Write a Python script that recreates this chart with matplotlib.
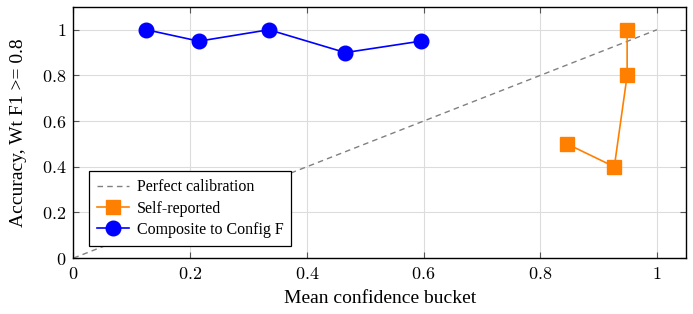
import matplotlib
matplotlib.use("Agg")
import matplotlib.pyplot as plt
from matplotlib.ticker import FuncFormatter

plt.rcParams['font.family'] = ['Liberation Serif', 'DejaVu Serif']
plt.rcParams['mathtext.fontset'] = 'cm'

# calibration data
diag_x = [0, 1]
diag_y = [0, 1]

self_conf = [0.846, 0.927, 0.949, 0.949]
self_acc = [0.5, 0.4, 0.8, 1.0]

comp_conf = [0.125, 0.215, 0.335, 0.466, 0.595]
comp_acc = [1.0, 0.95, 1.0, 0.9, 0.95]

ticks = [0, 0.2, 0.4, 0.6, 0.8, 1]

fig = plt.figure(figsize=(6.93, 3.14), dpi=100)
ax = fig.add_axes([0.106, 0.178, 0.884, 0.800])

ax.plot(diag_x, diag_y, color='#808080', linestyle=(0, (4, 3)), linewidth=1.0,
        label='Perfect calibration')
ax.plot(self_conf, self_acc, color='#FF8000', marker='s', markersize=9.5,
        linewidth=1.2, label='Self-reported')
ax.plot(comp_conf, comp_acc, color='#0000FF', marker='o', markersize=10.5,
        linewidth=1.2, label='Composite to Config F')

ax.set_xlim(0, 1.05)
ax.set_ylim(0, 1.1)
ax.set_xticks(ticks)
ax.set_yticks(ticks)
# tick labels in the LaTeX look
fmt = FuncFormatter(lambda v, p: '$%g$' % v)
ax.xaxis.set_major_formatter(fmt)
ax.yaxis.set_major_formatter(fmt)
ax.grid(True, color='#dcdcdc', linewidth=0.8)
ax.set_axisbelow(True)
ax.tick_params(direction='in', length=4, width=0.8, color='#555555',
               top=True, right=True, labelsize=13)
ax.tick_params(axis='x', pad=6)
ax.tick_params(axis='y', pad=5)
for s in ax.spines.values():
    s.set_linewidth(1.0)

ax.set_xlabel('Mean confidence bucket', fontsize=14, labelpad=5)
ax.set_ylabel('Accuracy, Wt F1 >= 0.8', fontsize=14, labelpad=11)

leg = ax.legend(loc='lower left', bbox_to_anchor=(0.012, 0.018), numpoints=1,
                fancybox=False, edgecolor='black', framealpha=1, fontsize=11.5,
                handlelength=2.0, handletextpad=0.5, borderpad=0.5,
                labelspacing=0.32)
leg.get_frame().set_linewidth(0.9)

fig.savefig('out.png', dpi=100)
